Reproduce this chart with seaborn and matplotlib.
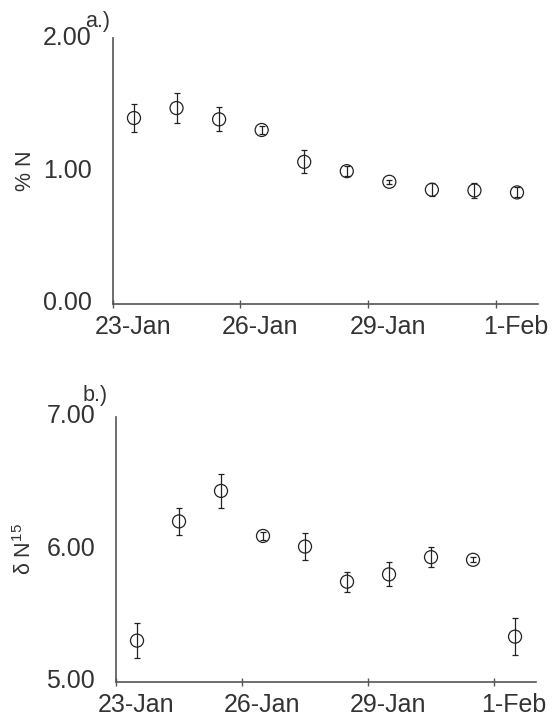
import pandas as pd
import seaborn as sns
import matplotlib.pyplot as plt
import matplotlib.dates as mdates
import matplotlib.transforms as mtrans

# Data
sample_days = ["23-Jan", "24-Jan", "25-Jan", "26-Jan", "27-Jan",
               "28-Jan", "29-Jan", "30-Jan", "31-Jan", "1-Feb"]

percent_n = [1.40, 1.475, 1.39, 1.31, 1.07, 1.00, 0.92, 0.86, 0.855, 0.84]
percent_n_err = [0.108, 0.115, 0.09, 0.03, 0.087, 0.04, 0.016, 0.05, 0.056, 0.037]

delta_n15 = [5.31, 6.21, 6.44, 6.10, 6.02, 5.755, 5.81, 5.94, 5.92, 5.34]
delta_n15_err = [0.13, 0.10, 0.13, 0.027, 0.10, 0.075, 0.09, 0.075, 0.02, 0.137]

x_ticks = ["23-Jan", "26-Jan", "29-Jan", "1-Feb"]

# samples were taken around midday
dates = pd.to_datetime([d + "-2000 12:00" for d in sample_days],
                       format="%d-%b-%Y %H:%M")
tick_dates = pd.to_datetime([d + "-2000" for d in x_ticks], format="%d-%b-%Y")

df = pd.DataFrame({
    "date": dates,
    "pn": percent_n,
    "pn_err": percent_n_err,
    "dn": delta_n15,
    "dn_err": delta_n15_err,
})

sns.set_style("ticks")
plt.rcParams["font.family"] = ["Liberation Sans", "DejaVu Sans"]

text_col = "#333333"
axis_col = "#555555"

fig = plt.figure(figsize=(5.53, 7.19), dpi=100)
ax1 = fig.add_axes([0.2038, 0.5772, 0.7696, 0.3695])
ax2 = fig.add_axes([0.2098, 0.0519, 0.7595, 0.3685])


def date_label(v, pos):
    d = mdates.num2date(v)
    return f"{d.day}-{d:%b}"


def draw_panel(ax, ycol, ecol, ylim, yticks, ylabel, label_x):
    ax.errorbar(df["date"], df[ycol], yerr=df[ecol], fmt="none",
                ecolor="#222222", elinewidth=0.9, capsize=2.2,
                capthick=0.9, zorder=2)
    sns.scatterplot(data=df, x="date", y=ycol, ax=ax, marker="o", s=88,
                    facecolor="none", edgecolor="#222222", linewidth=0.9,
                    zorder=3)

    ax.set_xlim(pd.Timestamp("2000-01-23"), pd.Timestamp("2000-02-02"))
    ax.set_ylim(*ylim)
    ax.set_xticks(tick_dates)
    ax.xaxis.set_major_formatter(plt.FuncFormatter(date_label))
    ax.set_yticks(yticks)
    ax.set_yticklabels([f"{t:.2f}" for t in yticks])

    ax.set_xlabel("")
    ax.set_ylabel(ylabel, fontsize=15.5, color=text_col)
    ax.yaxis.set_label_coords(label_x, 0.5)

    ax.tick_params(axis="x", direction="inout", length=6, width=1,
                   color=axis_col, labelsize=18, labelcolor=text_col, pad=5)
    ax.tick_params(axis="y", length=0, labelsize=18, labelcolor=text_col, pad=15)

    # date labels sit a little right of their ticks, value labels a bit high
    shift_x = mtrans.ScaledTranslation(0.20, 0, fig.dpi_scale_trans)
    for lab in ax.get_xticklabels():
        lab.set_transform(lab.get_transform() + shift_x)
    shift_y = mtrans.ScaledTranslation(0, 0.03, fig.dpi_scale_trans)
    for lab in ax.get_yticklabels():
        lab.set_transform(lab.get_transform() + shift_y)

    sns.despine(ax=ax)
    for side in ["left", "bottom"]:
        ax.spines[side].set_color(axis_col)
        ax.spines[side].set_linewidth(1.2)


draw_panel(ax1, "pn", "pn_err", (0, 2), [0, 1, 2], "% N", -0.18)
draw_panel(ax2, "dn", "dn_err", (5, 7), [5, 6, 7],
           r"δ N$\mathregular{^{15}}$", -0.19)

fig.text(85 / 553, 1 - 27 / 719, "a.)", fontsize=15.5, color=text_col,
         ha="left", va="baseline")
fig.text(83 / 553, 1 - 401 / 719, "b.)", fontsize=15.5, color=text_col,
         ha="left", va="baseline")

fig.savefig("out.png", dpi=100)
plt.close()
